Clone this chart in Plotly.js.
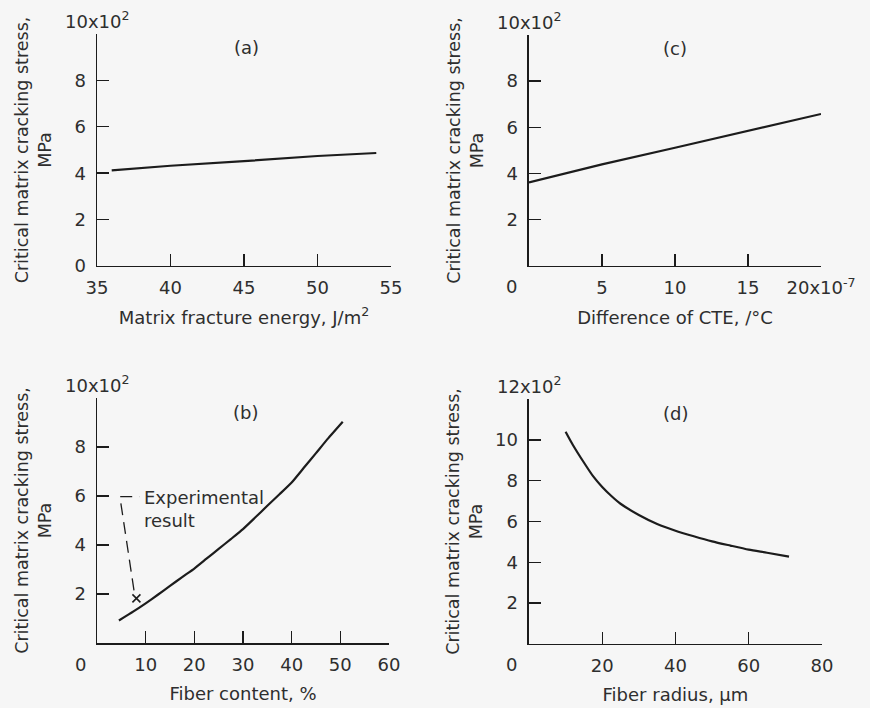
<!DOCTYPE html>
<html>
<head>
<meta charset="utf-8">
<script src="https://cdn.plot.ly/plotly-3.0.1.min.js"></script>
<style>
html, body { margin: 0; padding: 0; background: #f6f6f6; }
#chart { width: 870px; height: 708px; }
</style>
</head>
<body>
<div id="chart"></div>
<script>
// (a) Matrix fracture energy
const energyX = [36, 40, 45, 50, 54];
const energyY = [4.12, 4.32, 4.52, 4.74, 4.87];
// (c) Difference of CTE (x10^-7 /°C)
const cteX = [0, 5, 10, 15, 20];
const cteY = [3.62, 4.4, 5.12, 5.86, 6.58];
// (b) Fiber content, %
const fiberContentX = [4.5, 7.5, 10, 12.5, 15, 17.5, 20, 22.5, 25, 27.5, 30, 32.5, 35, 37.5, 40, 42.5, 45, 47.5, 50.5];
const fiberContentY = [0.92, 1.29, 1.62, 1.97, 2.33, 2.69, 3.04, 3.44, 3.84, 4.24, 4.65, 5.12, 5.6, 6.07, 6.55, 7.15, 7.75, 8.35, 9.03];
const experimentX = [8.1];
const experimentY = [1.82];
const leaderX = [7.6, 4.7, 8.7];
const leaderY = [2.15, 5.97, 5.97];
// (d) Fiber radius, µm
const radiusX = [10, 12, 15, 17.5, 20, 22.5, 25, 30, 35, 40, 45, 50, 55, 60, 65, 71];
const radiusY = [10.4, 9.75, 8.89, 8.22, 7.69, 7.25, 6.87, 6.32, 5.88, 5.55, 5.28, 5.03, 4.82, 4.62, 4.47, 4.28];

// tick values / labels
const xTicksA = [35, 40, 45, 50, 55];
const xTextA = ['35', '40', '45', '50', '55'];
const xTicksC = [5, 10, 15, 20];
const xTextC = ['5', '10', '15', '20x10<sup>-7</sup>'];
const xTicksB = [10, 20, 30, 40, 50, 60];
const xTextB = ['10', '20', '30', '40', '50', '60'];
const xTicksD = [20, 40, 60, 80];
const xTextD = ['20', '40', '60', '80'];
const yTicksA = [0, 2, 4, 6, 8];
const yTextA = ['0', '2', '4', '6', '8'];
const yTicks10 = [2, 4, 6, 8];
const yText10 = ['2', '4', '6', '8'];
const yTicks12 = [2, 4, 6, 8, 10];
const yText12 = ['2', '4', '6', '8', '10'];
const yTopTick10 = [10];
const yTopTick12 = [12];

const yTitle = 'Critical matrix cracking stress,<br>MPa';
const FONT = 'DejaVu Sans, Arial, sans-serif';
const TXT = '#2e2e2e';
const INK = '#1c1c1c';
const FS = 18;

const lineStyle = { color: INK, width: 2.2 };

const traces = [
  { x: energyX, y: energyY, xaxis: 'x', yaxis: 'y', mode: 'lines', line: lineStyle, hoverinfo: 'skip' },
  { x: cteX, y: cteY, xaxis: 'x2', yaxis: 'y2', mode: 'lines', line: lineStyle, hoverinfo: 'skip' },
  { x: fiberContentX, y: fiberContentY, xaxis: 'x3', yaxis: 'y3', mode: 'lines', line: Object.assign({ shape: 'spline', smoothing: 0.5 }, lineStyle), hoverinfo: 'skip' },
  { x: leaderX, y: leaderY, xaxis: 'x3', yaxis: 'y3', mode: 'lines', line: { color: INK, width: 1.3, dash: '12px,7px' }, hoverinfo: 'skip' },
  { x: experimentX, y: experimentY, xaxis: 'x3', yaxis: 'y3', mode: 'markers', marker: { symbol: 'x-thin', size: 8, line: { color: INK, width: 1.6 } }, hoverinfo: 'skip' },
  { x: radiusX, y: radiusY, xaxis: 'x4', yaxis: 'y4', mode: 'lines', line: Object.assign({ shape: 'spline', smoothing: 0.7 }, lineStyle), hoverinfo: 'skip' }
];

function axis(extra) {
  return Object.assign({
    showline: true, linecolor: INK, linewidth: 1.5,
    ticks: 'inside', ticklen: 12, tickwidth: 1.4, tickcolor: INK,
    showgrid: false, zeroline: false, fixedrange: true,
    tickmode: 'array', tickfont: { family: FONT, size: FS, color: TXT },
    automargin: false
  }, extra);
}
function xax(domain, range, vals, text, title, anchor, standoff) {
  return axis({ domain: domain, range: range, tickvals: vals, ticktext: text, anchor: anchor,
    ticklabelstandoff: 5,
    title: { text: title, font: { family: FONT, size: FS, color: TXT }, standoff: standoff } });
}
function yax(domain, range, vals, text, topTick, anchor, standoff) {
  return axis({ domain: domain, range: range, tickvals: vals, ticktext: text, anchor: anchor,
    ticklabelstandoff: 6,
    minor: { tickmode: 'array', tickvals: topTick, ticks: 'inside', ticklen: 12, tickwidth: 1.4, tickcolor: INK, showgrid: false },
    title: { text: yTitle, font: { family: FONT, size: 17.5, color: TXT }, standoff: standoff } });
}

const annFont = { family: FONT, size: FS, color: TXT };
function label(text, xref, yref, x, y, opts) {
  return Object.assign({ text: text, xref: xref, yref: yref, x: x, y: y, showarrow: false, font: annFont }, opts || {});
}

const annotations = [
  label('(a)', 'x domain', 'y domain', 0.51, 0.94, { yanchor: 'middle' }),
  label('(c)', 'x2 domain', 'y2 domain', 0.5, 0.94, { yanchor: 'middle' }),
  label('(b)', 'x3 domain', 'y3 domain', 0.51, 0.94, { yanchor: 'middle' }),
  label('(d)', 'x4 domain', 'y4 domain', 0.5, 0.94, { yanchor: 'middle' }),
  label('10x10<sup>2</sup>', 'x domain', 'y domain', 0, 1, { xanchor: 'center', yanchor: 'bottom', yshift: 0 }),
  label('10x10<sup>2</sup>', 'x2 domain', 'y2 domain', 0, 1, { xanchor: 'center', yanchor: 'bottom', yshift: 0 }),
  label('10x10<sup>2</sup>', 'x3 domain', 'y3 domain', 0, 1, { xanchor: 'center', yanchor: 'bottom', yshift: 0 }),
  label('12x10<sup>2</sup>', 'x4 domain', 'y4 domain', 0, 1, { xanchor: 'center', yanchor: 'bottom', yshift: 0 }),
  label('0', 'x2', 'y2', 0, 0, { xshift: -17, yshift: -21, yanchor: 'middle' }),
  label('0', 'x3', 'y3', 0, 0, { xshift: -17, yshift: -21, yanchor: 'middle' }),
  label('0', 'x4', 'y4', 0, 0, { xshift: -17, yshift: -21, yanchor: 'middle' }),
  label('Experimental<br>result', 'x3', 'y3', 9.2, 5.47, { xanchor: 'left', align: 'left', yanchor: 'middle' })
];

const layout = {
  width: 870, height: 708,
  margin: { l: 0, r: 0, t: 0, b: 0 },
  paper_bgcolor: '#f6f6f6', plot_bgcolor: '#f6f6f6',
  showlegend: false,
  font: { family: FONT, size: FS, color: TXT },
  xaxis: xax([0.1115, 0.4494], [35, 55], xTicksA, xTextA, 'Matrix fracture energy, J/m<sup>2</sup>', 'y', 14),
  yaxis: yax([0.6243, 0.9520], [0, 10], yTicksA, yTextA, yTopTick10, 'x', 18),
  xaxis2: xax([0.6080, 0.9437], [0, 20], xTicksC, xTextC, 'Difference of CTE, /°C', 'y2', 14),
  yaxis2: yax([0.6243, 0.9506], [0, 10], yTicks10, yText10, yTopTick10, 'x2', 18),
  xaxis3: xax([0.1115, 0.4471], [0, 60], xTicksB, xTextB, 'Fiber content, %', 'y3', 13),
  yaxis3: yax([0.0918, 0.4379], [0, 10], yTicks10, yText10, yTopTick10, 'x3', 18),
  xaxis4: xax([0.6080, 0.9448], [0, 80], xTicksD, xTextD, 'Fiber radius, µm', 'y4', 13),
  yaxis4: yax([0.0904, 0.4364], [0, 12], yTicks12, yText12, yTopTick12, 'x4', 8),
  annotations: annotations
};

Plotly.newPlot('chart', traces, layout, { displayModeBar: false, staticPlot: true });
</script>
</body>
</html>
